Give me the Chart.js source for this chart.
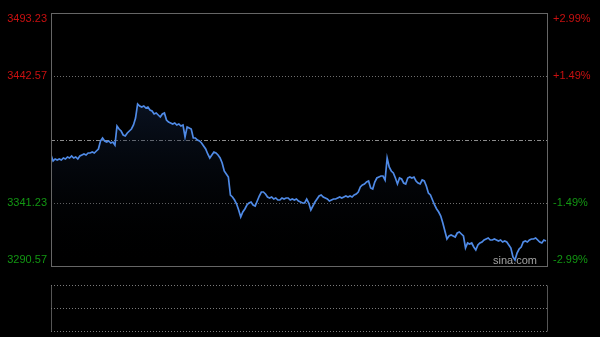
<!DOCTYPE html>
<html>
<head>
<meta charset="utf-8">
<script src="https://cdn.jsdelivr.net/npm/chart.js@4"></script>
<style>
  html, body { margin: 0; padding: 0; background: #000; }
  #wrap { width: 600px; height: 337px; }
</style>
</head>
<body>
<div id="wrap"><canvas id="minuteChart" width="600" height="337"></canvas></div>
<script>
const prevClose = 3391.90;
const priceTicks = [3493.23, 3442.57, 3391.90, 3341.23, 3290.57];
const priceLabels = ['3493.23', '3442.57', '', '3341.23', '3290.57'];
const pctLabels = ['+2.99%', '+1.49%', '', '-1.49%', '-2.99%'];

// one value per trading minute
const prices = [
  3379.48, 3374.68, 3376.28, 3375.48, 3376.28, 3375.48, 3377.08, 3376.28, 3377.88, 3377.08,
  3378.68, 3377.08, 3377.88, 3376.28, 3378.68, 3379.48, 3380.29, 3379.48, 3381.09, 3381.09,
  3381.89, 3381.09, 3382.69, 3384.29, 3390.70, 3393.10, 3390.70, 3389.90, 3390.70, 3389.10,
  3389.90, 3387.49, 3402.71, 3400.31, 3398.71, 3395.50, 3394.70, 3397.11, 3398.71, 3400.31,
  3403.51, 3409.12, 3420.34, 3418.73, 3417.93, 3418.73, 3417.13, 3417.93, 3415.53, 3414.73,
  3412.33, 3413.13, 3411.52, 3409.92, 3412.33, 3413.13, 3407.52, 3405.92, 3405.12, 3404.32,
  3405.12, 3403.51, 3404.32, 3402.71, 3403.51, 3393.90, 3401.91, 3401.11, 3400.31, 3393.10,
  3393.10, 3391.50, 3390.70, 3389.10, 3386.69, 3384.29, 3380.29, 3377.08, 3379.48, 3381.89,
  3381.09, 3379.48, 3377.08, 3373.08, 3366.67, 3364.27, 3361.86, 3347.44, 3345.84, 3343.44,
  3340.24, 3335.43, 3329.82, 3333.83, 3336.23, 3339.43, 3341.04, 3341.84, 3339.43, 3338.63,
  3342.64, 3346.64, 3349.85, 3349.85, 3348.25, 3345.84, 3345.04, 3345.84, 3344.24, 3345.04,
  3343.44, 3343.44, 3345.04, 3344.24, 3345.04, 3345.04, 3343.44, 3344.24, 3343.44, 3344.24,
  3342.64, 3341.84, 3341.04, 3341.04, 3344.24, 3341.04, 3335.43, 3338.63, 3341.84, 3344.24,
  3346.64, 3347.44, 3345.84, 3345.04, 3344.24, 3342.64, 3343.44, 3344.24, 3344.24, 3345.04,
  3345.84, 3345.04, 3345.84, 3346.64, 3345.84, 3346.64, 3345.84, 3347.44, 3348.25, 3349.85,
  3353.85, 3355.45, 3356.26, 3357.86, 3358.66, 3353.05, 3352.25, 3357.86, 3361.06, 3361.86,
  3362.66, 3362.66, 3359.46, 3377.08, 3369.87, 3366.67, 3365.07, 3361.06, 3356.26, 3361.06,
  3360.26, 3357.06, 3356.26, 3361.06, 3361.86, 3361.06, 3361.86, 3358.66, 3357.06, 3356.26,
  3359.46, 3358.66, 3354.65, 3349.05, 3347.44, 3343.44, 3339.43, 3336.23, 3333.83, 3330.62,
  3325.02, 3318.61, 3312.20, 3314.60, 3315.40, 3314.60, 3313.80, 3317.01, 3317.81, 3316.21,
  3314.60, 3304.99, 3309.00, 3308.20, 3309.00, 3305.79, 3303.39, 3307.39, 3309.00, 3309.80,
  3311.40, 3312.20, 3313.00, 3311.40, 3311.40, 3312.20, 3311.40, 3310.60, 3311.40, 3309.80,
  3310.60, 3309.80, 3307.39, 3304.99, 3297.78, 3295.38, 3300.99, 3304.19, 3305.79, 3309.80,
  3310.60, 3309.80, 3311.40, 3312.20, 3312.20, 3313.00, 3311.40, 3309.80, 3309.00, 3311.40,
  3310.60
];
const totalMinutes = 241;

const points = prices.map((p, i) => ({ x: i, y: p }));

const framePlugin = {
  id: 'frame',
  beforeDatasetsDraw(chart) {
    const { ctx, chartArea: a, scales: { y } } = chart;
    ctx.save();
    ctx.lineWidth = 1;
    priceTicks.forEach((v, i) => {
      if (i === 0 || i === priceTicks.length - 1) return;
      const py = Math.round(y.getPixelForValue(v)) + 0.5;
      const mid = v === prevClose;
      ctx.strokeStyle = mid ? '#8c8c8c' : '#6e6e6e';
      ctx.setLineDash(mid ? [4, 2, 1, 2] : [1, 2]);
      ctx.beginPath();
      ctx.moveTo(a.left, py);
      ctx.lineTo(a.right, py);
      ctx.stroke();
    });
    ctx.setLineDash([]);
    // watermark
    ctx.fillStyle = '#a6a6a6';
    ctx.font = '11px Arial, "Liberation Sans", sans-serif';
    ctx.textAlign = 'right';
    ctx.textBaseline = 'middle';
    ctx.fillText('sina.com', a.right - 11, a.bottom - 5);
    ctx.restore();
  },
  afterDraw(chart) {
    const { ctx, chartArea: a, scales: { y } } = chart;
    ctx.save();
    // main box
    ctx.strokeStyle = '#666666';
    ctx.lineWidth = 1;
    ctx.strokeRect(a.left + 0.5, a.top + 0.5, a.right - a.left - 1, a.bottom - a.top);

    // axis labels, left prices and right percentages
    ctx.font = '11px Arial, "Liberation Sans", sans-serif';
    ctx.textBaseline = 'middle';
    priceTicks.forEach((v, i) => {
      if (!priceLabels[i]) return;
      let py = y.getPixelForValue(v);
      py = Math.min(Math.max(py, a.top + 6), a.bottom - 6);
      ctx.fillStyle = v > prevClose ? '#c81010' : '#129612';
      ctx.textAlign = 'right';
      ctx.fillText(priceLabels[i], a.left - 4, py);
      ctx.textAlign = 'left';
      ctx.fillText(pctLabels[i], a.right + 5, py);
    });

    // empty volume panel below
    const vTop = 285.5, vBottom = 331.5, vMid = 308.5;
    ctx.strokeStyle = '#555555';
    ctx.beginPath();
    ctx.moveTo(a.left + 0.5, vTop);
    ctx.lineTo(a.left + 0.5, vBottom);
    ctx.moveTo(a.right - 0.5, vTop);
    ctx.lineTo(a.right - 0.5, vBottom);
    ctx.stroke();
    ctx.strokeStyle = '#7a7a7a';
    ctx.setLineDash([1, 2]);
    [vTop, vMid, vBottom].forEach(py => {
      ctx.beginPath();
      ctx.moveTo(a.left, py);
      ctx.lineTo(a.right, py);
      ctx.stroke();
    });
    ctx.restore();
  }
};

const ctx = document.getElementById('minuteChart').getContext('2d');
new Chart(ctx, {
  type: 'line',
  data: {
    datasets: [{
      data: points,
      borderColor: '#4f8ae6',
      borderWidth: 1.7,
      pointRadius: 0,
      tension: 0,
      fill: 'start',
      backgroundColor: (c) => {
        const area = c.chart.chartArea;
        if (!area) return 'rgba(0,0,0,0)';
        const g = c.chart.ctx.createLinearGradient(0, area.top, 0, area.bottom);
        g.addColorStop(0, 'rgba(32,60,110,0.7)');
        g.addColorStop(1, 'rgba(0,0,0,0)');
        return g;
      }
    }]
  },
  options: {
    responsive: false,
    animation: false,
    devicePixelRatio: 1,
    layout: { padding: { left: 51, right: 52, top: 13, bottom: 71 } },
    plugins: {
      legend: { display: false },
      tooltip: { enabled: false }
    },
    scales: {
      x: { type: 'linear', min: 0, max: totalMinutes, display: false },
      y: { min: priceTicks[priceTicks.length - 1], max: priceTicks[0], display: false }
    }
  },
  plugins: [framePlugin]
});
</script>
</body>
</html>
